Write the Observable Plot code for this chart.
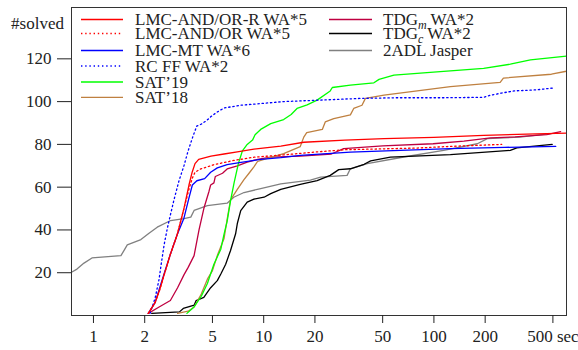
<!DOCTYPE html>
<html>
<head>
<meta charset="utf-8">
<script src="https://cdn.jsdelivr.net/npm/d3@7"></script>
<script src="https://cdn.jsdelivr.net/npm/@observablehq/plot@0.6"></script>
<style>
  html, body { margin: 0; padding: 0; background: #fff; }
  #chart { width: 578px; height: 350px; }
</style>
</head>
<body>
<div id="chart"></div>
<script>
// ---- data: [seconds, #solved] ----
const lmcAndOrR = [[2.1,1],[2.3,6],[2.45,12],[2.6,19],[2.84,29],[3.11,38],[3.4,50],[3.64,61],[3.8,67],[3.95,71],[4.15,73],[4.9,74.5],[5.85,75.5],[7,76.5],[8.76,77.8],[10.5,78.5],[12.6,79.2],[17.2,81],[30,82],[50.9,82.7],[100,83.3],[196,84.2],[350,84.8],[600,85.3]];
const lmcAndOr = [[2.1,1],[2.3,6],[2.45,12],[2.6,19],[2.84,29],[3.11,38],[3.4,50],[3.64,59],[3.8,64],[3.95,67],[4.26,68.5],[5.1,70.5],[6.67,72.5],[8.76,74],[12.6,75],[20.6,76.5],[30,77.5],[80,78.3],[120,79],[250,80]];
const lmcMt = [[2.1,1],[2.3,6],[2.54,17],[2.84,29],[3.11,38],[3.4,45.5],[3.64,55],[3.81,61],[4.05,63],[4.5,64],[4.88,67],[5.34,69],[6.1,70.5],[7.2,71.5],[9.6,73],[12.6,73.8],[16.4,74.9],[32.3,76.4],[70,77.3],[125,78],[260,78.6],[520,79.1]];
const rcFf = [[2.15,1],[2.3,8],[2.43,17],[2.5,24],[2.6,33],[2.72,41],[2.85,48],[2.97,54],[3.18,63],[3.4,70],[3.6,77],[3.85,84],[4.04,88.5],[4.3,89.5],[4.6,91],[4.9,93],[5.3,95],[5.85,97],[7.3,98.3],[10,99.2],[13,100],[20,100.6],[37,101.5],[60,101.8],[110,101.8],[196,102],[215,103],[250,104],[295,105],[400,105.5],[507,106.4]];
const sat19 = [[3.54,1],[3.9,4],[4.3,9],[4.67,15],[5.1,24],[5.6,31],[5.85,38],[6.1,44],[6.4,54],[6.7,62],[7.1,71],[7.5,77],[8.0,80],[8.6,82],[8.9,84.5],[9.6,87],[11,89.7],[13.1,91.6],[14.5,94],[15.7,96.8],[18,98.5],[20.6,100.7],[24.6,105],[25.3,106.6],[32.3,107.7],[44.4,108.8],[47.6,110.4],[58.2,112.4],[99.6,113.8],[196,115.5],[281,117.5],[369,119.5],[600,121.3]];
const sat18 = [[3.12,1],[3.6,2],[3.9,4],[4.3,10],[4.67,17],[5.0,21],[5.34,28],[5.85,36],[6.1,45],[6.38,54],[7,59],[7.66,63.5],[8.2,66.5],[8.76,69.5],[9.2,72],[10.5,73.5],[13.1,75.7],[16.4,79],[17.2,83.4],[17.9,85.5],[22.1,87],[23,90.5],[25.8,92],[32.3,93.8],[33.8,96.8],[37.8,98.3],[39.6,101.5],[50.9,103],[125,107],[245,109],[256,111],[490,112.8],[600,114.2]];
const tdgM = [[2.1,1],[2.43,4],[2.83,7],[3.12,13],[3.4,19],[3.6,22.5],[3.9,28],[4.17,40],[4.45,50],[4.77,58],[4.88,61],[5.1,62],[5.2,65],[5.73,66.5],[6.1,68.5],[7,70],[8,71.7],[9.2,73],[11,74],[16.4,74.5],[25,75.5],[29.5,78],[50,79.3],[99,80.3],[150,81.5],[215,83],[300,83.5],[460,84.6],[555,86]];
const tdgC = [[2.2,1],[3.2,1.7],[3.37,3.3],[3.91,4.9],[4.01,7],[4.45,8.5],[4.88,13],[5.34,16.3],[5.6,19.4],[5.98,24],[6.38,30.3],[6.84,38.2],[7,43],[7.33,49],[8,53],[8.76,54.4],[10.05,55.3],[11,57],[12.6,59],[16.4,61.3],[20.6,63.1],[24.6,65.5],[27.6,68.2],[32.3,68.6],[38.9,70.7],[42.5,72.3],[55.5,74],[125,75.2],[281,77.2],[307,78.4],[495,80]];
const jasper = [[0.743,20.2],[0.8,21.7],[0.88,24.5],[0.98,26.9],[1.45,28],[1.51,30.3],[1.58,33],[1.9,35.5],[2.12,38.5],[2.37,41.3],[2.84,44.4],[3.4,45.3],[3.73,46],[3.9,49.1],[4.67,51.4],[6.1,52.5],[6.67,55.3],[7.66,57.5],[9.6,59.3],[12.6,61.5],[18.8,63.3],[21.6,64.7],[30.9,65.5],[32.3,68.6],[40.6,71],[66.5,74.1],[114,77.2],[180,80.3],[206,82.7],[320,83.4],[480,85]];

const seriesNames = ["LMC-AND/OR-R WA*5","LMC-AND/OR WA*5","LMC-MT WA*6","RC FF WA*2","SAT\u201919","SAT\u201918","TDG_m WA*2","TDG_c WA*2","2ADL Jasper"];
const seriesData = [lmcAndOrR, lmcAndOr, lmcMt, rcFf, sat19, sat18, tdgM, tdgC, jasper];
const seriesColors = ["#ff0000","#ff0000","#0000ff","#0000ff","#00ff00","#bf8040","#bf0040","#000000","#808080"];
const seriesDotted = [false,true,false,true,false,false,false,false,false];

const xTicks = [1,2,5,10,20,50,100,200,500];
const yTicks = [20,40,60,80,100,120];
const xLabel = "sec";
const yLabel = "#solved";

// ---- layout ----
const FONT = "'Liberation Serif', 'Times New Roman', serif";
const drawOrder = [8,7,6,5,4,3,2,1,0];

const lineMarks = drawOrder.map(i => Plot.line(seriesData[i], {
  x: d => d[0], y: d => d[1],
  stroke: seriesColors[i],
  strokeWidth: 1.3,
  strokeDasharray: seriesDotted[i] ? "1.4,2.8" : null
}));

const fmtX = d => d === xTicks[xTicks.length - 1] ? `${d} ${xLabel}` : String(d);

const chart = Plot.plot({
  width: 578, height: 350,
  marginLeft: 71, marginRight: 12, marginTop: 7, marginBottom: 35,
  x: {type: "log", domain: [0.743, 601]},
  y: {domain: [0, 144]},
  style: {fontFamily: FONT, fontSize: "17px", background: "#fff", color: "#222"},
  marks: [
    ...lineMarks,
    Plot.frame({stroke: "#333", strokeWidth: 1}),
    Plot.axisX({ticks: xTicks, tickSize: 8, tickPadding: 6, label: null, text: fmtX, fontSize: 17}),
    Plot.axisY({ticks: yTicks, tickSize: 14, tickPadding: 6, label: null, fontSize: 17}),
    Plot.text([yLabel], {frameAnchor: "top-left", dx: -34, dy: 9, text: d => d, fontSize: 17, textAnchor: "middle"})
  ]
});
document.getElementById("chart").appendChild(chart);

// ---- legend (inside plot, two columns) ----
const legendCols = [{lineX0: 81, lineX1: 123, textX: 135}, {lineX0: 329, lineX1: 372, textX: 383}];
const legendRows = [19.5, 33.5, 50.5, 66, 82, 97.3];
const svg = d3.select(chart.tagName.toLowerCase() === "svg" ? chart : chart.querySelector("svg"));
const lg = svg.append("g").attr("font-family", FONT).attr("font-size", 17)
  .attr("fill", "#222").attr("text-anchor", "start");
seriesNames.forEach((name, i) => {
  const col = legendCols[i < 6 ? 0 : 1];
  const cy = legendRows[i < 6 ? i : i - 6];
  lg.append("line")
    .attr("x1", col.lineX0).attr("x2", col.lineX1)
    .attr("y1", cy).attr("y2", cy)
    .attr("stroke", seriesColors[i]).attr("stroke-width", 1.3)
    .attr("stroke-dasharray", seriesDotted[i] ? "1.4,2.8" : null);
  const t = lg.append("text").attr("x", col.textX).attr("y", cy + 5.5).attr("text-anchor", "start");
  const m = name.match(/^(.*)_(\w)(.*)$/);
  if (m) {
    t.append("tspan").text(m[1]);
    t.append("tspan").attr("font-style", "italic").attr("font-size", 12).attr("dy", 3.5).text(m[2]);
    t.append("tspan").attr("dy", -3.5).text(m[3]);
  } else {
    t.text(name);
  }
});
</script>
</body>
</html>
